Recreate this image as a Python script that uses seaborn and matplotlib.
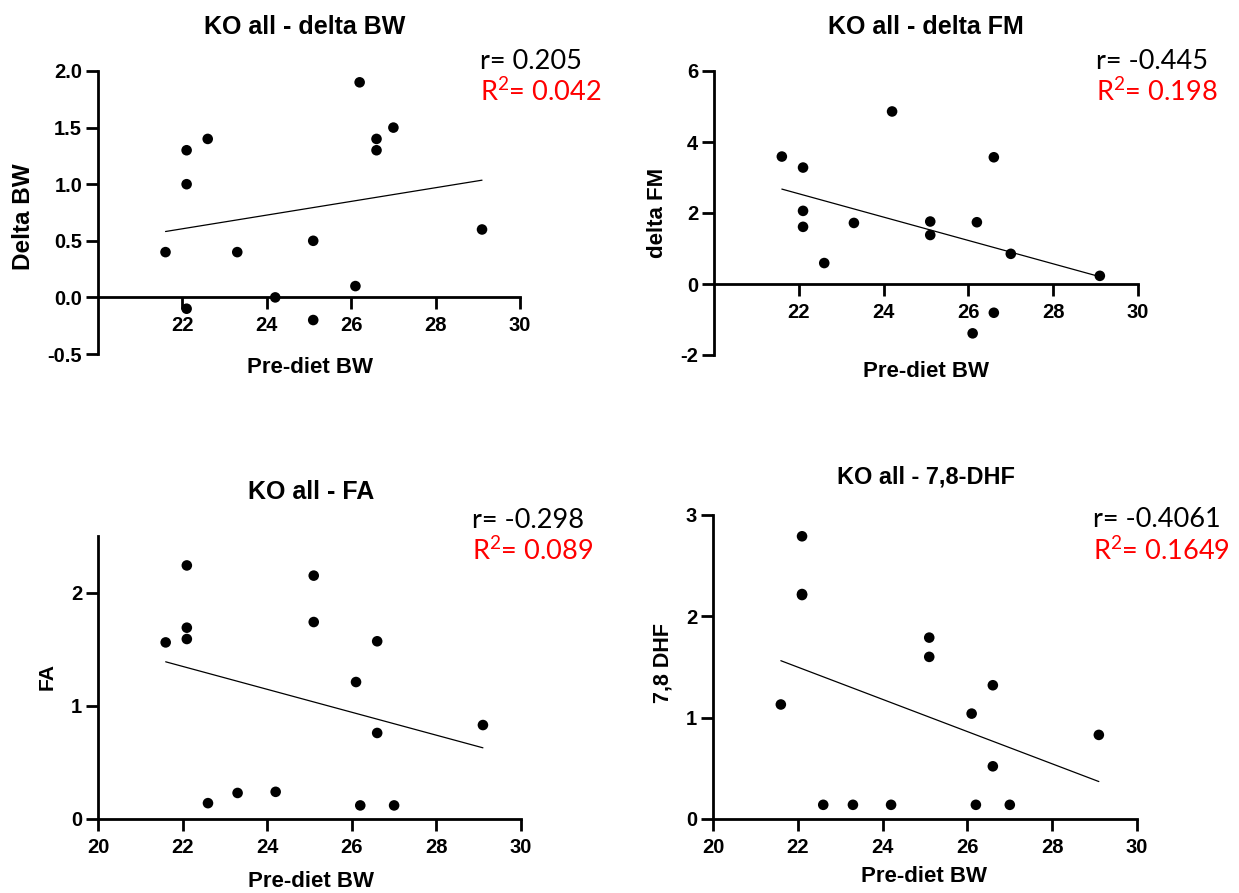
import matplotlib
matplotlib.use("Agg")
import matplotlib.pyplot as plt
import seaborn as sns

W, H = 1239, 893

# shared x values (pre-diet body weight)
pre_bw = [21.6, 22.1, 22.1, 22.1, 22.6, 23.3, 24.2, 25.1, 25.1, 26.1, 26.2, 26.6, 26.6, 27.0, 29.1]

delta_bw = [0.4, 1.3, 1.0, -0.1, 1.4, 0.4, 0.0, 0.5, -0.2, 0.1, 1.9, 1.4, 1.3, 1.5, 0.6]
delta_fm = [3.59, 3.28, 2.06, 1.61, 0.59, 1.72, 4.86, 1.76, 1.38, -1.39, 1.74, 3.57, -0.81, 0.85, 0.23]
fa = [1.56, 2.24, 1.69, 1.59, 0.14, 0.23, 0.24, 2.15, 1.74, 1.21, 0.12, 1.57, 0.76, 0.12, 0.83]
dhf = [1.13, 2.79, 2.22, 2.21, 0.14, 0.14, 0.14, 1.79, 1.60, 1.04, 0.14, 1.32, 0.52, 0.14, 0.83]

titles = ["KO all - delta BW", "KO all - delta FM", "KO all - FA", "KO all - 7,8-DHF"]
ylabels = ["Delta BW", "delta FM", "FA", "7,8 DHF"]
r_text = ["r= 0.205", "r= -0.445", "r= -0.298", "r= -0.4061"]
r2_text = ["0.042", "0.198", "0.089", "0.1649"]

MAIN = ["Liberation Sans", "DejaVu Sans"]
STAT = ["Lato", "DejaVu Sans"]


def fx(px):
    return px / W


def fy(py):
    return 1 - py / H


sns.set_theme(style="ticks")
plt.rcParams["font.family"] = MAIN
plt.rcParams["mathtext.default"] = "regular"
plt.rcParams["axes.unicode_minus"] = False
plt.rcParams["text.color"] = "black"

fig = plt.figure(figsize=(W / 100, H / 100), dpi=100)

# axes boxes in pixels: left, top, right, bottom
boxes = [(98, 71, 520, 354), (714, 71, 1138, 355), (98, 536, 521, 819), (713, 515, 1137, 819)]
ylims = [(-0.5, 2.0), (-2, 6), (0, 2.5), (0, 3)]
yticks = [[-0.5, 0, 0.5, 1.0, 1.5, 2.0], [-2, 0, 2, 4, 6], [0, 1, 2], [0, 1, 2, 3]]
xticks = [[22, 24, 26, 28, 30], [22, 24, 26, 28, 30], [20, 22, 24, 26, 28, 30], [20, 22, 24, 26, 28, 30]]
series = [delta_bw, delta_fm, fa, dhf]

title_pos = [(305, 34, 18), (926, 34, 18), (311, 499, 18), (926, 483, 16.9)]
xlab_pos = [(310, 373), (926, 377), (311, 887), (924, 882)]
ylab_pos = [(23.5, 217, 17.5), (657.5, 213, 16), (47, 677, 15.2), (662.5, 663, 15.5)]
stat_pos = [(480, 69, 101), (1096, 69, 101), (472, 528, 560), (1093, 527, 560)]

for i, (l, t, r, b) in enumerate(boxes):
    ax = fig.add_axes([fx(l), fy(b), fx(r - l), (b - t) / H])
    sns.regplot(x=pre_bw, y=series[i], ax=ax, ci=None, truncate=True,
                scatter_kws=dict(s=58, color="black", edgecolor="none", alpha=1, zorder=3),
                line_kws=dict(color="black", lw=0.9))
    ax.set_xlim(20, 30)
    ax.set_ylim(*ylims[i])
    ax.set_xticks(xticks[i])
    ax.set_yticks(yticks[i])
    if i == 0:
        ax.set_yticklabels([f"{v:.1f}" for v in yticks[i]])
    sns.despine(ax=ax)
    if i < 2:
        ax.spines["bottom"].set_position(("data", 0))
    for s in ["left", "bottom"]:
        ax.spines[s].set_linewidth(2.0)
        ax.spines[s].set_color("black")
    ax.tick_params(axis="both", direction="out", length=8.4, width=2, color="black",
                   labelsize=14.5, labelcolor="black")
    ax.tick_params(axis="x", pad=5)
    ax.tick_params(axis="y", pad=3)
    for lab in ax.get_xticklabels() + ax.get_yticklabels():
        lab.set_fontweight("bold")
    ax.set_xlabel("")
    ax.set_ylabel("")
    ax.set_facecolor("none")

    tx, ty, ts = title_pos[i]
    fig.text(fx(tx), fy(ty), titles[i], ha="center", va="baseline", fontsize=ts, fontweight="bold")
    lx, ly = xlab_pos[i]
    fig.text(fx(lx), fy(ly), "Pre-diet BW", ha="center", va="baseline", fontsize=16, fontweight="bold")
    yx, yy, ys = ylab_pos[i]
    fig.text(fx(yx), fy(yy), ylabels[i], ha="center", va="center", rotation=90,
             fontsize=ys, fontweight="bold")
    sx, sy1, sy2 = stat_pos[i]
    fig.text(fx(sx), fy(sy1), r_text[i], ha="left", va="baseline", fontsize=19.5, family=STAT, color="black")
    fig.text(fx(sx), fy(sy2), "R$^{2}$= " + r2_text[i], ha="left", va="baseline", fontsize=19.5,
             family=STAT, color="#ff0000")

fig.savefig("out.png", dpi=100, facecolor="white")
